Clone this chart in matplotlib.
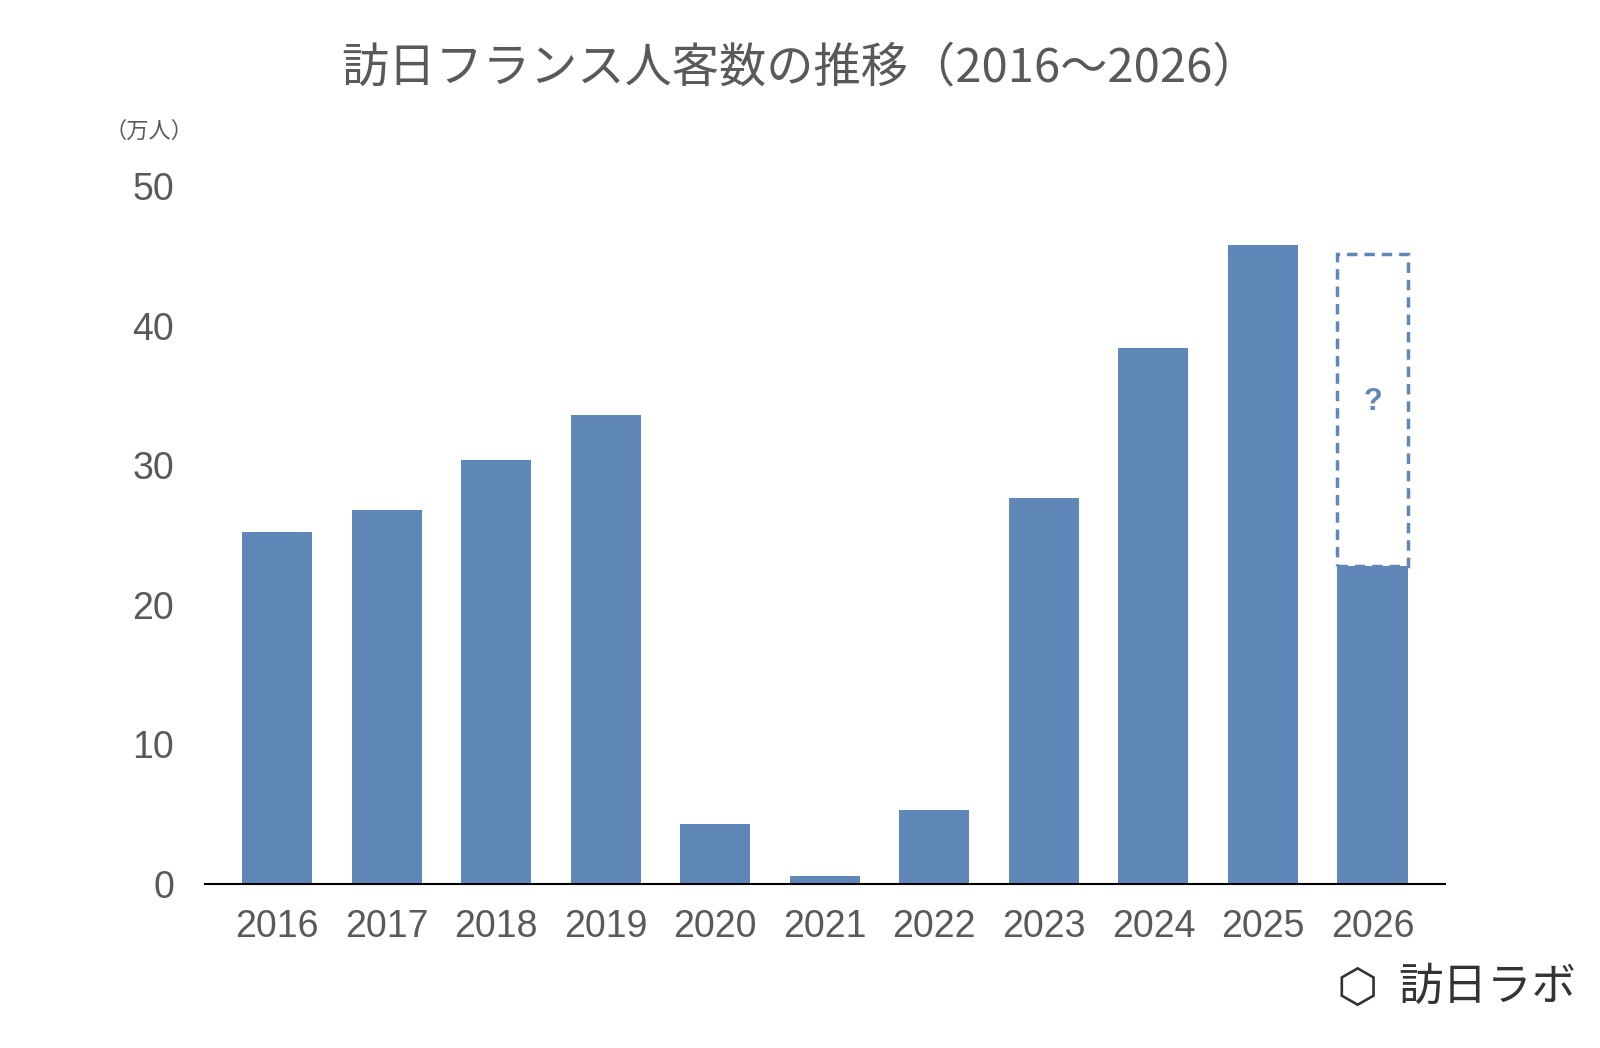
import matplotlib
matplotlib.use("Agg")
import matplotlib.pyplot as plt
from matplotlib.patches import Rectangle

plt.rcParams['font.family'] = ['Noto Sans CJK JP', 'DejaVu Sans']

years = ['2016','2017','2018','2019','2020','2021','2022','2023','2024','2025','2026']
values = [25.2, 26.8, 30.4, 33.6, 4.3, 0.57, 5.3, 27.65, 38.4, 45.8, 22.8]
forecast_top = 45.1
color = '#5f87b8'
grey = '#595959'

fig = plt.figure(figsize=(16, 10.48), dpi=100)
ax = fig.add_axes([0.128, 0.1565, 0.775, 0.666])
x = list(range(len(years)))
w = 0.64
ax.bar(x, values, width=w, color=color, zorder=2)
i = len(years) - 1
ax.add_patch(Rectangle((i - w/2, values[i]), w, forecast_top - values[i], fill=False,
                       edgecolor=color, linestyle=(0, (3, 2)), linewidth=2.5, zorder=3))
ax.text(i, (values[i] + forecast_top) / 2 + 0.6, '?', ha='center', va='center',
        color=color, fontsize=22, fontweight='bold', family=['Liberation Sans'])
ax.set_xlim(-0.66, len(years) - 1 + 0.66)
ax.set_ylim(0, 50)
ax.set_yticks([0, 10, 20, 30, 40, 50])
ax.set_xticks(x)
ax.set_xticklabels(years)
for s in ['top', 'right', 'left']:
    ax.spines[s].set_visible(False)
ax.spines['bottom'].set_color('black')
ax.spines['bottom'].set_linewidth(1.5)
ax.tick_params(axis='both', length=0, labelsize=27, colors=grey)
ax.tick_params(axis='y', pad=22)
ax.tick_params(axis='x', pad=18)
for lab in ax.get_xticklabels() + ax.get_yticklabels():
    lab.set_family(['Liberation Sans'])

fig.text(0.5, 0.935, '訪日フランス人客数の推移（2016～2026）', ha='center', va='center',
         fontsize=34, color=grey)
fig.text(0.093, 0.875, '（万人）', ha='center', va='center', fontsize=16, color=grey)
fig.text(0.985, 0.058, '訪日ラボ', ha='right', va='center', fontsize=32, color='#333333')
fig.text(0.848, 0.056, '⬡', ha='center', va='center', fontsize=34, color='#333333',
         family=['DejaVu Sans'])
fig.savefig('out.png', dpi=100)
